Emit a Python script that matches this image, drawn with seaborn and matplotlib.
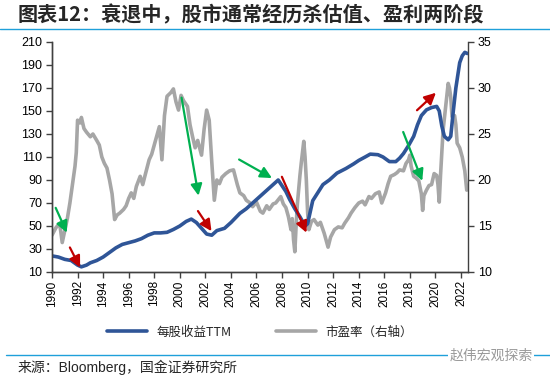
import numpy as np
import pandas as pd
import matplotlib
matplotlib.use('Agg')
import matplotlib.pyplot as plt
import seaborn as sns

# EPS TTM (left axis)
eps_year = [1990.0, 1990.5, 1991.0, 1991.5, 1992.0, 1992.3, 1992.7, 1993.0, 1993.5, 1994.0,
            1994.5, 1995.0, 1995.5, 1996.0, 1996.5, 1997.0, 1997.5, 1998.0, 1998.5, 1999.0,
            1999.5, 2000.0, 2000.5, 2000.9, 2001.3, 2001.7, 2002.1, 2002.5, 2002.9, 2003.5,
            2004.0, 2004.7, 2005.2, 2005.7, 2006.2, 2006.8, 2007.3, 2007.7, 2008.0, 2008.3,
            2008.6, 2009.0, 2009.4, 2009.8, 2010.0, 2010.2, 2010.4, 2010.8, 2011.2, 2011.7,
            2012.3, 2013.0, 2013.6, 2014.0, 2014.5, 2014.9, 2015.5, 2015.9, 2016.4, 2016.9,
            2017.2, 2017.5, 2017.9, 2018.3, 2018.6, 2018.9, 2019.3, 2019.7, 2020.1, 2020.3,
            2020.5, 2020.7, 2021.0, 2021.2, 2021.4, 2021.6, 2021.9, 2022.1, 2022.3, 2022.5]
eps_val = [24, 23, 21, 20, 16, 14.5, 16, 18, 20, 23,
           27, 31, 34, 35.5, 37, 39, 42, 44, 44, 44.5,
           47, 50, 54, 56, 53, 48, 43, 42, 46, 48,
           53, 61, 65, 70, 75, 81, 86, 90, 85, 80,
           73, 65, 58, 50, 52, 62, 72, 79, 86, 90,
           96, 100, 104, 107, 110, 112.5, 112, 110, 106, 106,
           109, 113, 120, 128, 138, 146, 151, 153, 154, 150,
           137, 128, 125, 128, 150, 170, 192, 198, 201, 200]

# PE (right axis)
pe_year = [1990.0, 1990.3, 1990.6, 1990.8, 1991.0, 1991.2, 1991.4, 1991.6, 1991.8, 1991.9,
           1992.0, 1992.2, 1992.3, 1992.5, 1992.7, 1993.0, 1993.2, 1993.5, 1993.7, 1993.9,
           1994.1, 1994.3, 1994.5, 1994.7, 1994.9, 1995.1, 1995.3, 1995.6, 1995.8, 1996.0,
           1996.2, 1996.4, 1996.6, 1996.9, 1997.1, 1997.3, 1997.6, 1997.8, 1998.1, 1998.4,
           1998.6, 1998.8, 1999.0, 1999.3, 1999.5, 1999.7, 1999.9, 2000.1, 2000.3, 2000.6,
           2000.8, 2001.0, 2001.2, 2001.4, 2001.7, 2001.9, 2002.1, 2002.3, 2002.5, 2002.7,
           2002.9, 2003.1, 2003.3, 2003.6, 2003.9, 2004.2, 2004.5, 2004.7, 2005.0, 2005.2,
           2005.5, 2005.7, 2006.0, 2006.3, 2006.5, 2006.8, 2007.0, 2007.3, 2007.5, 2007.9,
           2008.1, 2008.3, 2008.5, 2008.7, 2008.8, 2008.9, 2009.0, 2009.1, 2009.2, 2009.4,
           2009.5, 2009.7, 2009.8, 2009.9, 2010.0, 2010.1, 2010.3, 2010.5, 2010.8, 2011.0,
           2011.3, 2011.6, 2011.8, 2012.1, 2012.4, 2012.7, 2012.9, 2013.2, 2013.4, 2013.7,
           2014.0, 2014.3, 2014.5, 2014.8, 2015.0, 2015.3, 2015.6, 2015.8, 2016.1, 2016.3,
           2016.5, 2016.8, 2017.0, 2017.2, 2017.5, 2017.7, 2017.9, 2018.0, 2018.1, 2018.3,
           2018.5, 2018.7, 2018.9, 2019.0, 2019.1, 2019.3, 2019.5, 2019.7, 2019.9, 2020.1,
           2020.2, 2020.3, 2020.4, 2020.6, 2020.8, 2021.0, 2021.1, 2021.2, 2021.3, 2021.5,
           2021.6, 2021.7, 2021.9, 2022.1, 2022.3, 2022.45]
pe_val = [14.0, 14.8, 15.3, 13.2, 14.5, 15.8, 17.5, 19.5, 21.5, 23.0,
          26.5, 26.2, 26.8, 25.6, 25.2, 24.7, 25.0, 24.3, 23.8, 22.5,
          21.8, 21.3, 20.0, 18.5, 15.7, 16.2, 16.4, 16.8, 17.2, 18.0,
          18.6, 18.0, 19.3, 20.4, 19.5, 20.6, 22.2, 22.8, 24.3, 25.8,
          22.2, 27.0, 29.1, 29.5, 29.9, 28.5, 27.6, 29.2, 28.6, 28.0,
          26.0, 24.7, 23.5, 24.3, 22.7, 25.5, 27.6, 26.5, 22.0, 17.8,
          20.0, 19.6, 20.3, 20.7, 21.0, 21.1, 19.5, 18.6, 18.3, 17.8,
          17.5, 17.1, 17.6, 16.6, 16.4, 17.2, 16.8, 17.4, 17.5, 18.2,
          17.4, 17.0, 16.0, 14.6, 15.8, 13.5, 12.2, 15.0, 17.4, 20.5,
          21.8, 24.2, 22.5, 20.0, 16.5, 14.6, 15.5, 15.7, 15.1, 15.4,
          14.2, 12.7, 13.8, 14.6, 14.9, 14.8, 15.3, 15.9, 16.4, 17.0,
          17.5, 17.7, 17.3, 18.2, 18.0, 18.5, 18.7, 17.5, 18.6, 19.6,
          20.4, 20.6, 20.8, 21.1, 21.0, 21.8, 22.2, 22.7, 21.5, 20.4,
          20.2, 19.9, 18.5, 16.7, 18.3, 18.9, 19.4, 19.5, 20.7, 20.5,
          19.5, 17.6, 20.5, 25.4, 28.0, 30.5, 30.0, 29.0, 26.9, 27.0,
          26.0, 24.0, 23.5, 22.5, 21.0, 18.9]

# arrows: (x0, y0, x1, y1) in year / EPS units, colour
arrows = [
    (1990.2, 68, 1991.25, 42, '#00B050'),
    (1991.3, 33.5, 1992.3, 11.7, '#C00000'),
    (2000.1, 164, 2001.5, 74, '#00B050'),
    (2001.3, 65, 2002.6, 43.5, '#C00000'),
    (2004.45, 109, 2007.4, 90.5, '#00B050'),
    (2007.9, 95, 2010.0, 42, '#C00000'),
    (2017.4, 134, 2019.05, 87, '#00B050'),
    (2018.4, 149, 2020.2, 167.5, '#C00000'),
]

eps_label = '每股收益TTM'
pe_label = '市盈率（右轴）'
title = '图表12：衰退中，股市通常经历杀估值、盈利两阶段'
source = '来源：Bloomberg，国金证券研究所'

sns.set_style('white')
plt.rcParams['font.family'] = ['Liberation Sans', 'Noto Sans CJK SC', 'DejaVu Sans']

blue = '#2F5597'
grey = '#A6A6A6'
axc = '#404040'

fig = plt.figure(figsize=(5.5, 3.77), dpi=100)
ax = fig.add_axes([52/550, 1-272/377, (468-52)/550, (272-42)/377])
ax2 = ax.twinx()

eps = pd.DataFrame({'year': eps_year, 'eps': eps_val})
pe = pd.DataFrame({'year': pe_year, 'pe': pe_val})

sns.lineplot(data=pe, x='year', y='pe', ax=ax2, color=grey, lw=2.6, label=pe_label, legend=False)
sns.lineplot(data=eps, x='year', y='eps', ax=ax, color=blue, lw=2.6, label=eps_label, legend=False)

ax.set_zorder(ax2.get_zorder() + 1)
ax.patch.set_visible(False)

for x0, y0, x1, y1, c in arrows:
    ax.annotate('', xy=(x1, y1), xytext=(x0, y0),
                arrowprops=dict(arrowstyle='-|>', color=c, lw=1.6, mutation_scale=17))

ax.set_xlim(1990, 2022.55)
ax.set_ylim(10, 210)
ax2.set_ylim(10, 35)
ax.set_yticks(range(10, 211, 20))
ax2.set_yticks(range(10, 36, 5))
ax.set_xticks(range(1990, 2023, 2))
ax.set_xticklabels([str(y) for y in range(1990, 2023, 2)], rotation=90)
ax.set_xlabel('')
ax.set_ylabel('')
ax2.set_ylabel('')

for a in (ax, ax2):
    for s in a.spines.values():
        s.set_color(axc)
        s.set_linewidth(1.0)
    a.spines['top'].set_visible(False)
    a.tick_params(length=4, width=1.0, color=axc, labelsize=9, labelcolor='black', pad=3)
ax.spines['right'].set_visible(False)
ax.tick_params(axis='x', labelsize=8.5, pad=2)
ax.tick_params(axis='both', direction='out', left=True, bottom=True)
ax2.tick_params(axis='y', direction='out', right=True)

h1, l1 = ax.get_legend_handles_labels()
h2, l2 = ax2.get_legend_handles_labels()
fig.legend(h1 + h2, l1 + l2, loc='center', bbox_to_anchor=(260/550, 1-332/377),
           ncol=2, frameon=False, handlelength=3.2, columnspacing=3.5,
           prop={'family': ['Noto Sans CJK SC'], 'size': 9})

fig.text(18/550, 1-15/377, title, fontsize=14.5, fontweight='bold', va='center', ha='left',
         family=['Noto Sans CJK SC'])
fig.add_artist(plt.Line2D([0, 1], [1-29/377, 1-29/377], color='#1FA0DA', lw=1.0))
fig.add_artist(plt.Line2D([6/550, 1], [1-355/377, 1-355/377], color='#1FA0DA', lw=1.0))
fig.text(18/550, 1-367/377, source, fontsize=10, va='center', ha='left',
         family=['Liberation Sans', 'Noto Sans CJK SC'])
fig.text(533/550, 1-356/377, '赵伟宏观探索', fontsize=10, va='center', ha='right', color='#9A9A9A',
         family=['Noto Sans CJK SC'], bbox=dict(facecolor='white', edgecolor='none', pad=1))

fig.savefig('out.png', dpi=100)
